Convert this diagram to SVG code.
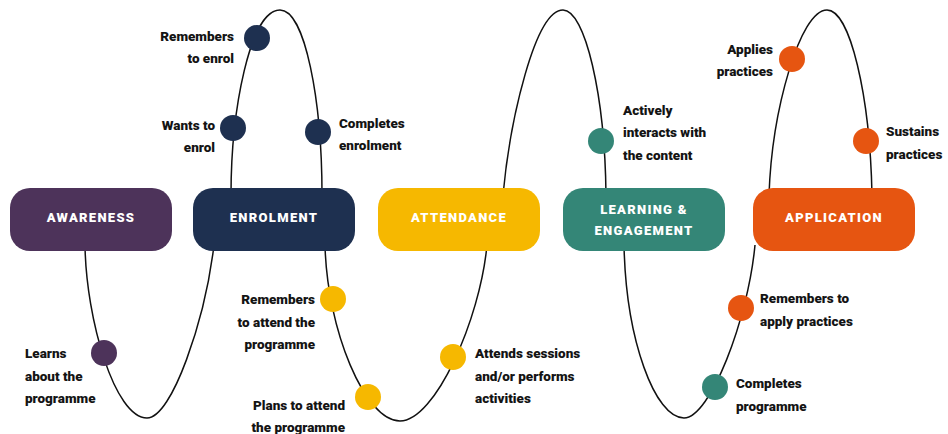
<svg xmlns="http://www.w3.org/2000/svg" width="948" height="434" viewBox="0 0 948 434">
  <style>
    .wave { fill: none; stroke: #111; stroke-width: 1.5; }
    .stage rect { rx: 20; ry: 20; }
    .stage text { font-family: Roboto, "Liberation Sans", sans-serif; font-weight: 900; font-size: 13px; letter-spacing: 1.3px; fill: #fff; text-anchor: middle; }
    .lbl { font-family: Roboto, "Liberation Sans", sans-serif; font-weight: 900; font-size: 13.5px; fill: #141414; }
    .end { text-anchor: end; }
    .aw { fill: #4d335a; } .en { fill: #1e3050; } .at { fill: #f6b800; } .le { fill: #348677; } .ap { fill: #e65511; }
  </style>
  <rect width="948" height="434" fill="#fff"/>

  <!-- the journey wave: one loop per stage transition -->
  <g id="connectors" class="wave">
    <path d="M85,245 C86,320 115,418 147,418 C172,418 205,320 214,245"/>
    <path d="M231,195 C231,110 250,10 280,10 C305,10 322,100 322,195"/>
    <path d="M325,245 C327,330 365,421 400,421 C435,421 480,320 487,245"/>
    <path d="M503,195 C510,120 535,10 563,10 C585,10 605,95 606,195"/>
    <path d="M624,245 C626,340 655,418 684,418 C710,418 748,320 755,245"/>
    <path d="M769,195 C772,110 800,10 827,10 C850,10 870,95 872,195"/>
  </g>

  <!-- stages -->
  <g id="awareness" class="stage">
    <rect class="aw" x="10" y="188" width="162" height="63"/>
    <text x="91" y="221.5">AWARENESS</text>
  </g>
  <g id="enrolment" class="stage">
    <rect class="en" x="193" y="188" width="162" height="63"/>
    <text x="274" y="221.5">ENROLMENT</text>
  </g>
  <g id="attendance" class="stage">
    <rect class="at" x="378" y="188" width="162" height="63"/>
    <text x="459" y="221.5">ATTENDANCE</text>
  </g>
  <g id="learning" class="stage">
    <rect class="le" x="563" y="188" width="162" height="63"/>
    <text x="644" y="214">LEARNING &amp;</text>
    <text x="644" y="234.5">ENGAGEMENT</text>
  </g>
  <g id="application" class="stage">
    <rect class="ap" x="753" y="188" width="162" height="63"/>
    <text x="834" y="221.5">APPLICATION</text>
  </g>

  <!-- milestones -->
  <g id="learns">
    <circle class="aw" cx="104" cy="353" r="13"/>
    <text class="lbl" x="25"><tspan x="25" y="358">Learns</tspan><tspan x="25" y="381">about the</tspan><tspan x="25" y="403">programme</tspan></text>
  </g>
  <g id="wants-to-enrol">
    <circle class="en" cx="233" cy="128" r="13"/>
    <text class="lbl end"><tspan x="215" y="130">Wants to</tspan><tspan x="215" y="152">enrol</tspan></text>
  </g>
  <g id="remembers-to-enrol">
    <circle class="en" cx="257" cy="38" r="13"/>
    <text class="lbl end"><tspan x="234" y="41">Remembers</tspan><tspan x="234" y="63">to enrol</tspan></text>
  </g>
  <g id="completes-enrolment">
    <circle class="en" cx="318" cy="132" r="13"/>
    <text class="lbl"><tspan x="339" y="128">Completes</tspan><tspan x="339" y="150">enrolment</tspan></text>
  </g>
  <g id="remembers-to-attend">
    <circle class="at" cx="333" cy="299" r="13"/>
    <text class="lbl end"><tspan x="315" y="304">Remembers</tspan><tspan x="315" y="327">to attend the</tspan><tspan x="315" y="349">programme</tspan></text>
  </g>
  <g id="plans-to-attend">
    <circle class="at" cx="368" cy="397" r="13"/>
    <text class="lbl end"><tspan x="345" y="410">Plans to attend</tspan><tspan x="345" y="432">the programme</tspan></text>
  </g>
  <g id="attends-sessions">
    <circle class="at" cx="453" cy="357" r="13"/>
    <text class="lbl"><tspan x="475" y="358">Attends sessions</tspan><tspan x="475" y="381">and/or performs</tspan><tspan x="475" y="403">activities</tspan></text>
  </g>
  <g id="interacts">
    <circle class="le" cx="601" cy="141" r="13"/>
    <text class="lbl"><tspan x="623" y="115">Actively</tspan><tspan x="623" y="137">interacts with</tspan><tspan x="623" y="160">the content</tspan></text>
  </g>
  <g id="completes-programme">
    <circle class="le" cx="715" cy="387" r="13"/>
    <text class="lbl"><tspan x="736" y="388">Completes</tspan><tspan x="736" y="411">programme</tspan></text>
  </g>
  <g id="remembers-to-apply">
    <circle class="ap" cx="741" cy="308" r="13"/>
    <text class="lbl"><tspan x="760" y="303">Remembers to</tspan><tspan x="760" y="326">apply practices</tspan></text>
  </g>
  <g id="applies-practices">
    <circle class="ap" cx="792" cy="59" r="13"/>
    <text class="lbl end"><tspan x="773" y="54">Applies</tspan><tspan x="773" y="76">practices</tspan></text>
  </g>
  <g id="sustains-practices">
    <circle class="ap" cx="866" cy="141" r="13"/>
    <text class="lbl"><tspan x="886" y="136">Sustains</tspan><tspan x="886" y="159">practices</tspan></text>
  </g>

  <!-- page number -->
  <text class="lbl" x="892" y="444" font-size="18">21</text>
</svg>
